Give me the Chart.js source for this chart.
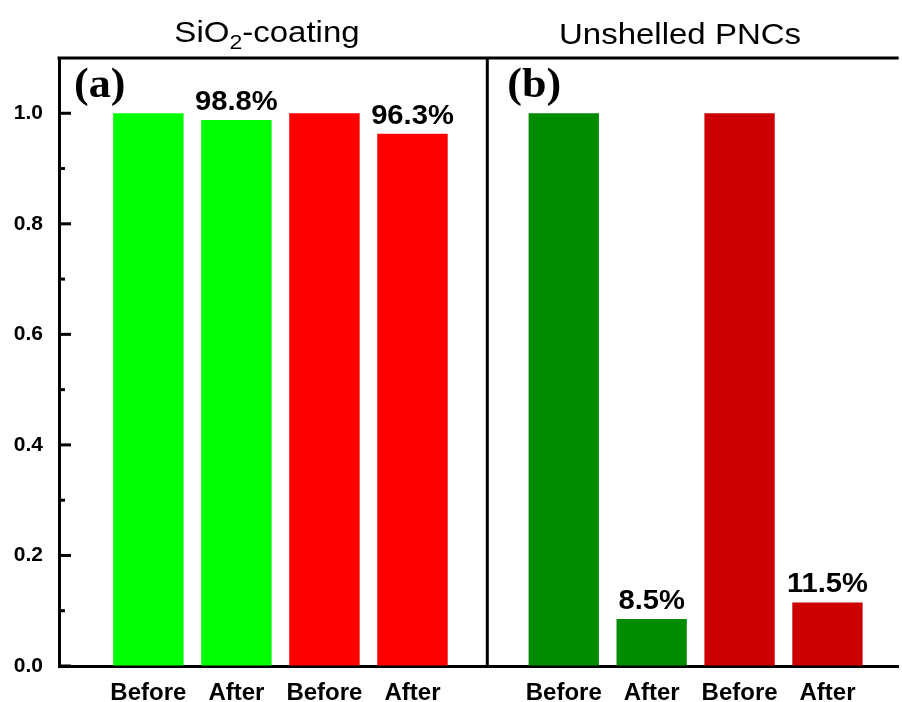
<!DOCTYPE html>
<html>
<head>
<meta charset="utf-8">
<script src="https://cdn.jsdelivr.net/npm/chart.js@4"></script>
<style>
  html, body { margin: 0; padding: 0; background: #ffffff; }
  canvas { display: block; }
</style>
</head>
<body>
<canvas id="chart" width="902" height="702"></canvas>
<script>
// Relative PL intensity before / after treatment, two sample groups
const panelTitles = ['SiO₂-coating', 'Unshelled PNCs'];
const panelLetters = ['(a)', '(b)'];
const categories = ['Before', 'After', 'Before', 'After'];
const coatedValues = [1.000, 0.988, 1.000, 0.963];
const unshelledValues = [1.000, 0.085, 1.000, 0.115];
const yTickValues = [0.0, 0.2, 0.4, 0.6, 0.8, 1.0];
const yMinorValues = [0.1, 0.3, 0.5, 0.7, 0.9];

const coatedColors = ['#00ff00', '#00ff00', '#ff0000', '#ff0000'];
const unshelledColors = ['#008c00', '#008c00', '#cc0000', '#cc0000'];

const SANS = '"Liberation Sans", Arial, sans-serif';
const SERIF = '"Liberation Serif", "Times New Roman", serif';

const toPoints = values => values.map((v, i) => ({ x: i + 1, y: v }));
const categoryTicks = scale => { scale.ticks = categories.map((c, i) => ({ value: i + 1 })); };

// Draw text with a slight horizontal stretch; subscript digits are lowered and shrunk
function drawText(ctx, text, x, y, size, weight, family, align, stretch) {
  const subMap = { '₀':'0','₁':'1','₂':'2','₃':'3','₄':'4','₅':'5','₆':'6','₇':'7','₈':'8','₉':'9' };
  const parts = [];
  for (const ch of text) {
    const sub = subMap[ch] !== undefined;
    const c = sub ? subMap[ch] : ch;
    if (parts.length && parts[parts.length - 1].sub === sub) parts[parts.length - 1].t += c;
    else parts.push({ t: c, sub });
  }
  const subSize = Math.round(size * 0.7);
  let total = 0;
  parts.forEach(p => {
    ctx.font = `${weight} ${p.sub ? subSize : size}px ${family}`;
    p.w = ctx.measureText(p.t).width;
    total += p.w;
  });
  ctx.save();
  ctx.translate(x, y);
  ctx.scale(stretch, 1);
  let cx = align === 'center' ? -total / 2 : 0;
  ctx.textAlign = 'left';
  ctx.textBaseline = 'alphabetic';
  ctx.fillStyle = '#000000';
  parts.forEach(p => {
    ctx.font = `${weight} ${p.sub ? subSize : size}px ${family}`;
    ctx.fillText(p.t, cx, p.sub ? size * 0.24 : 0);
    cx += p.w;
  });
  ctx.restore();
}

const frameAndLabels = {
  id: 'frameAndLabels',
  afterDraw(chart) {
    const { ctx, chartArea: a, scales } = chart;
    ctx.save();
    ctx.fillStyle = '#000000';

    // top edge of the frame and the divider between panels
    ctx.fillRect(a.left - 1.5, a.top - 1.5, a.right - a.left + 1.5, 3);
    ctx.fillRect(scales.xb.left - 1.5, a.top, 3, a.bottom - a.top);

    // inward tick marks on the y axis (major and minor)
    const y = scales.y;
    yTickValues.forEach(v => {
      const py = y.getPixelForValue(v);
      ctx.fillRect(a.left, py - 1.5, 12, 3);
    });
    yMinorValues.forEach(v => {
      const py = y.getPixelForValue(v);
      ctx.fillRect(a.left, py - 1.5, 6, 3);
    });
    ctx.restore();

    // percentage labels above the "After" bars
    chart.data.datasets.forEach((ds, di) => {
      const meta = chart.getDatasetMeta(di);
      meta.data.forEach((bar, i) => {
        if (categories[i] !== 'After') return;
        const label = (ds.data[i].y * 100).toFixed(1) + '%';
        drawText(ctx, label, bar.x, bar.y - 10, 27, 'bold', SANS, 'center', 1.08);
      });
    });

    // panel letters
    drawText(ctx, panelLetters[0], scales.xa.left + 15, 97, 42, 'bold', SERIF, 'left', 1.05);
    drawText(ctx, panelLetters[1], scales.xb.left + 20, 97, 42, 'bold', SERIF, 'left', 1.05);

    // panel titles above the frame
    drawText(ctx, panelTitles[0], 267, 42, 30, 'normal', SANS, 'center', 1.1);
    drawText(ctx, panelTitles[1], 680, 44, 30, 'normal', SANS, 'center', 1.1);
  }
};

const xAxis = (min, max, weight) => ({
  type: 'linear',
  position: 'bottom',
  stack: 'panels',
  stackWeight: weight,
  offset: false,
  min: min,
  max: max,
  afterBuildTicks: categoryTicks,
  afterFit: s => { s.height = 36; },
  grid: { display: true, drawOnChartArea: false, drawTicks: false, offset: false },
  border: { display: true, color: '#000000', width: 3 },
  ticks: {
    autoSkip: false,
    maxRotation: 0,
    padding: 13,
    color: '#000000',
    font: { family: SANS, size: 24, weight: 'bold' },
    callback: v => categories[Math.round(v) - 1] || ''
  }
});

new Chart(document.getElementById('chart'), {
  type: 'bar',
  data: {
    datasets: [
      { label: panelTitles[0], data: toPoints(coatedValues), backgroundColor: coatedColors,
        xAxisID: 'xa', yAxisID: 'y', grouped: false, barPercentage: 1.0, categoryPercentage: 0.8, borderWidth: 0 },
      { label: panelTitles[1], data: toPoints(unshelledValues), backgroundColor: unshelledColors,
        xAxisID: 'xb', yAxisID: 'y', grouped: false, barPercentage: 1.0, categoryPercentage: 0.8, borderWidth: 0 }
    ]
  },
  options: {
    responsive: false,
    animation: false,
    devicePixelRatio: 1,
    layout: { padding: { top: 58, left: 0, right: 0, bottom: 0 } },
    plugins: { legend: { display: false }, tooltip: { enabled: false }, title: { display: false } },
    scales: {
      xa: xAxis(-0.015, 4.85, 430),
      xb: xAxis(0.13, 4.81, 413),
      y: {
        type: 'linear',
        position: 'left',
        min: 0,
        max: 1.1,
        afterBuildTicks: s => { s.ticks = yTickValues.map(v => ({ value: v })); },
        afterFit: s => { s.width = 59; },
        grid: { display: true, drawOnChartArea: false, drawTicks: false },
        border: { display: true, color: '#000000', width: 3 },
        ticks: {
          padding: 16,
          color: '#000000',
          font: { family: SANS, size: 21, weight: 'bold' },
          callback: v => Number(v).toFixed(1)
        }
      }
    }
  },
  plugins: [frameAndLabels]
});
</script>
</body>
</html>
